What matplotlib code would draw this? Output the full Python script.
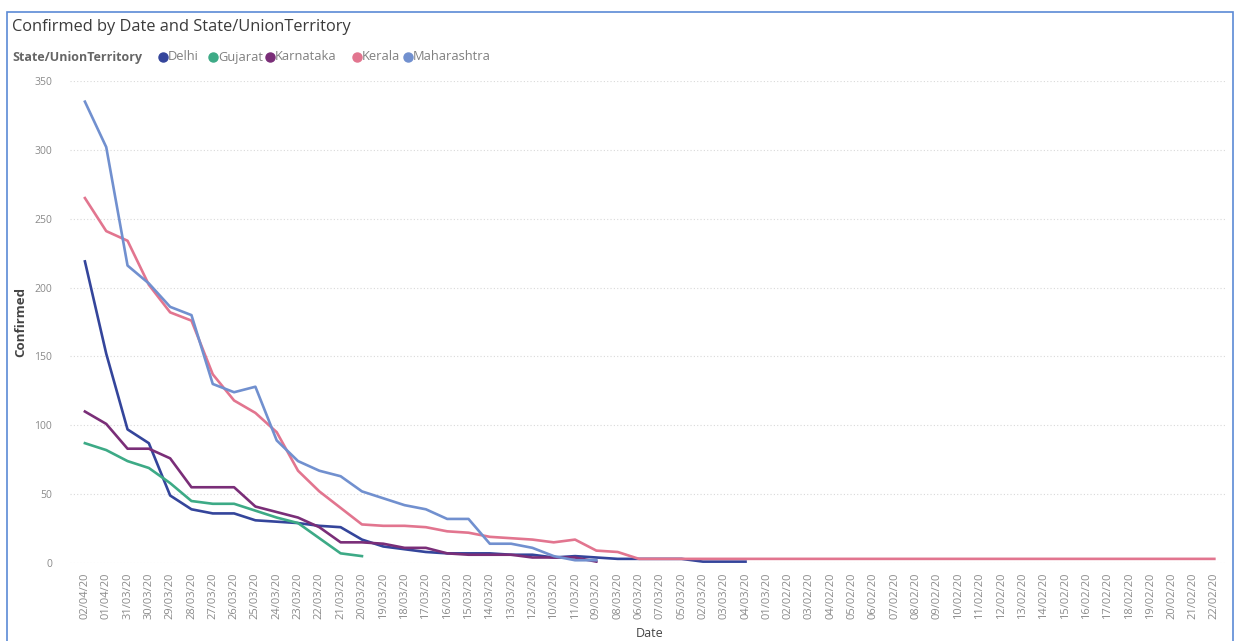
import numpy as np
import matplotlib
matplotlib.use("Agg")
import matplotlib.pyplot as plt
from matplotlib.patches import Rectangle
from matplotlib.lines import Line2D

# Category order on the x axis (as sorted in the report)
dates = [
    "02/04/20", "01/04/20", "31/03/20", "30/03/20", "29/03/20", "28/03/20",
    "27/03/20", "26/03/20", "25/03/20", "24/03/20", "23/03/20", "22/03/20",
    "21/03/20", "20/03/20", "19/03/20", "18/03/20", "17/03/20", "16/03/20",
    "15/03/20", "14/03/20", "13/03/20", "12/03/20", "10/03/20", "11/03/20",
    "09/03/20", "08/03/20", "06/03/20", "07/03/20", "05/03/20", "02/03/20",
    "03/03/20", "04/03/20", "01/03/20", "02/02/20", "03/02/20", "04/02/20",
    "05/02/20", "06/02/20", "07/02/20", "08/02/20", "09/02/20", "10/02/20",
    "11/02/20", "12/02/20", "13/02/20", "14/02/20", "15/02/20", "16/02/20",
    "17/02/20", "18/02/20", "19/02/20", "20/02/20", "21/02/20", "22/02/20",
]

# Confirmed cases per state, following the date order above
delhi = [219, 152, 97, 87, 49, 39, 36, 36, 31, 30, 29, 27, 26, 17, 12, 10,
         8, 7, 7, 7, 6, 6, 4, 5, 4, 3, 3, 3, 3, 1, 1, 1]
gujarat = [87, 82, 74, 69, 58, 45, 43, 43, 38, 33, 29, 18, 7, 5]
karnataka = [110, 101, 83, 83, 76, 55, 55, 55, 41, 37, 33, 26, 15, 15, 14,
             11, 11, 7, 6, 6, 6, 4, 4, 4, 1]
kerala = [265, 241, 234, 202, 182, 176, 137, 118, 109, 95, 67, 52, 40, 28,
          27, 27, 26, 23, 22, 19, 18, 17, 15, 17, 9, 8] + [3] * 28
maharashtra = [335, 302, 216, 203, 186, 180, 130, 124, 128, 89, 74, 67, 63,
               52, 47, 42, 39, 32, 32, 14, 14, 11, 5, 2, 2]

states = ["Delhi", "Gujarat", "Karnataka", "Kerala", "Maharashtra"]
series = [delhi, gujarat, karnataka, kerala, maharashtra]
colors = ["#34459B", "#3DAA86", "#7A2E78", "#E2758F", "#7190CF"]
yticks = [0, 50, 100, 150, 200, 250, 300, 350]

plt.rcParams["font.family"] = ["Open Sans", "DejaVu Sans"]

W, H = 1244, 641
fig = plt.figure(figsize=(W / 100, H / 100), dpi=100)
fig.patch.set_facecolor("white")


def fx(px):
    return px / W


def fy(py):
    return 1 - py / H


ax = fig.add_axes([fx(70), fy(563), fx(1225) - fx(70), fy(81) - fy(563)])
x = np.arange(len(dates))
for name, vals, c in zip(states, series, colors):
    ax.plot(x[:len(vals)], vals, color=c, lw=1.9, solid_joinstyle="round",
            label=name)

ax.set_xlim(-0.7, len(dates) - 0.5)
ax.set_ylim(0, 350)
ax.set_yticks(yticks)
ax.set_yticklabels([str(v) for v in yticks])
ax.set_xticks(x)
ax.set_xticklabels(dates, rotation=90)
ax.tick_params(axis="both", length=0, colors="#8a8a8a")
ax.tick_params(axis="y", pad=13, labelsize=7.5)
ax.tick_params(axis="x", pad=7, labelsize=8)
ax.grid(axis="y", color="#d9d9d9", lw=0.8, ls=(0, (1, 2)))
ax.set_axisbelow(True)
for s in ax.spines.values():
    s.set_visible(False)

# Title and legend header
fig.text(fx(12), fy(27), "Confirmed by Date and State/UnionTerritory",
         fontsize=11.8, color="#3b3b3b", va="center", ha="left")
fig.text(fx(12), fy(57), "State/UnionTerritory", fontsize=9, color="#666666",
         fontweight="bold", va="center", ha="left")
legend_x = [163, 213, 270, 357, 408]
for lx, name, c in zip(legend_x, states, colors):
    fig.add_artist(Line2D([fx(lx)], [fy(57)], marker="o", markersize=6.5,
                          color=c, linestyle="none",
                          transform=fig.transFigure))
    fig.text(fx(lx + 5), fy(57), name, fontsize=9.3, color="#808080",
             va="center", ha="left")

# Axis titles
fig.text(fx(21), fy(322), "Confirmed", rotation=90, fontsize=9.5,
         color="#444444", fontweight="bold", va="center", ha="center")
fig.text(fx(650), fy(640), "Date", fontsize=9, color="#444444",
         va="bottom", ha="center")

# Visual border
fig.patches.append(Rectangle((fx(7), fy(660)), fx(1233) - fx(7),
                             fy(12) - fy(660), fill=False,
                             edgecolor="#5b8ad6", lw=1.2,
                             transform=fig.transFigure, figure=fig))

fig.savefig("out.png", dpi=100)
